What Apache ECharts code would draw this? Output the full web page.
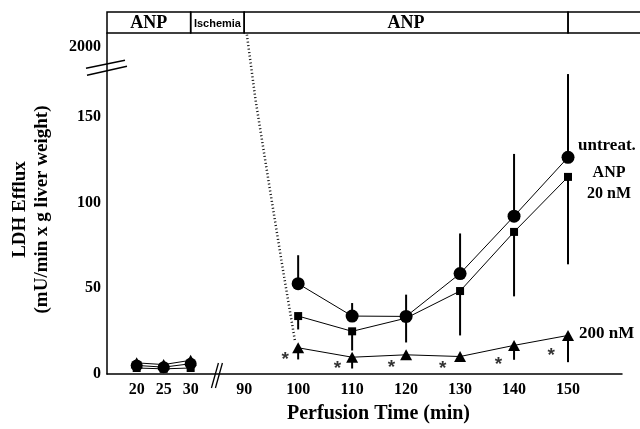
<!DOCTYPE html>
<html>
<head>
<meta charset="utf-8" />
<script src="https://cdn.jsdelivr.net/npm/echarts@6.0.0/dist/echarts.min.js"></script>
</head>
<body style="margin: 0; background: #fff">
<div id="main" style="width: 640px; height: 429px"></div>
<script>
// times (min)
var earlyTimes = [20, 25, 30];
var lateTimes = [100, 110, 120, 130, 140, 150];

// LDH efflux, mU/min x g liver weight
var untreatEarly = [5, 4, 6];
var untreatLate = [52.7, 33.8, 33.6, 58.6, 92.1, 126.4];
var untreatErrUp = [16.6, 7.6, 12.7, 23.4, 36.3, 50.1];

var anp20Early = [3.5, 3, 3.5];
var anp20Late = [33.8, 24.9, 32.6, 48.4, 82.9, 115];
var anp20ErrDown = [7.8, 11.2, 14.2, 25.9, 37.6, 51];

var anp200Early = [6.5, 5.5, 8];
var anp200Late = [15.3, 9.8, 11.2, 10.2, 16.7, 22.5];
var anp200ErrDown = [6.8, 6.6, 0, 0, 8.4, 15.6];

// significance stars
var starTimes = [97.6, 107.3, 117.3, 126.8, 137.1, 146.9];
var starValues = [11.4, 6, 6.7, 6, 8.3, 13.7];

// reperfusion spike (dotted)
var spikeTimes = [90.5, 92.1, 94.8, 97.2, 99.4];
var spikeValues = [2007, 160, 107, 60.5, 19.5];

var xTicks = [20, 25, 30, 90, 100, 110, 120, 130, 140, 150];
var yTicks = [0, 50, 100, 150, 2000];

var phaseNames = ['ANP', 'Ischemia', 'ANP', ''];
var phaseStart = [14.5, 30, 90, 150];
var phaseEnd = [30, 90, 150, 160];

var X_MIN = 14.5, X_MAX = 160;
var xBreak = { start: 32, end: 88, gap: '6.2%' };
var yBreak = { start: 175, end: 1992, gap: '4%' };

var serif = 'Liberation Serif';

function pairs(xs, ys) {
  return xs.map(function (x, i) { return [x, ys[i]]; });
}

function lineSeries(xs, ys, symbol, size, endLabel) {
  var s = {
    type: 'line',
    data: pairs(xs, ys),
    symbol: symbol,
    symbolSize: size,
    showAllSymbol: true,
    itemStyle: { color: '#000' },
    lineStyle: { color: '#000', width: 1 },
    z: 3
  };
  if (endLabel) s.endLabel = endLabel;
  return s;
}

function errSeries(xs, ys, errs, dir) {
  return {
    type: 'custom',
    data: xs.map(function (x, i) { return [x, ys[i], ys[i] + dir * errs[i]]; }),
    encode: { x: 0, y: [1, 2] },
    z: 2,
    renderItem: function (params, api) {
      var a = api.coord([api.value(0), api.value(1)]);
      var b = api.coord([api.value(0), api.value(2)]);
      return {
        type: 'line',
        shape: { x1: a[0], y1: a[1], x2: b[0], y2: b[1] },
        style: { stroke: '#000', lineWidth: 2 }
      };
    }
  };
}

var labelFont = { fontFamily: serif, fontWeight: 'bold', fontSize: 16, color: '#000' };

var chart = echarts.init(document.getElementById('main'));

var option = {
  animation: false,
  backgroundColor: '#fff',
  grid: [
    { left: 107, right: 18, top: 33, bottom: 55 },
    { left: 107, right: 18, top: 12, height: 21 }
  ],
  xAxis: [
    {
      type: 'value', gridIndex: 0, min: X_MIN, max: X_MAX,
      breaks: [xBreak],
      breakArea: { show: false },
      axisLine: { lineStyle: { color: '#000', width: 1.5 }, breakLine: false },
      axisTick: { show: false },
      splitLine: { show: false },
      axisLabel: Object.assign({ customValues: xTicks, margin: 8, formatter: function (v) { return String(v); } }, labelFont),
      name: 'Perfusion Time (min)',
      nameLocation: 'middle',
      nameGap: 30,
      nameTextStyle: { fontFamily: serif, fontWeight: 'bold', fontSize: 20, color: '#000', padding: [0, 0, 0, 28] }
    },
    {
      type: 'value', gridIndex: 1, min: X_MIN, max: X_MAX,
      breaks: [xBreak],
      breakArea: { show: false },
      show: false
    }
  ],
  yAxis: [
    {
      type: 'value', gridIndex: 0, min: 0, max: 2008,
      breaks: [yBreak],
      breakArea: { show: false },
      axisLine: { show: true, lineStyle: { color: '#000', width: 1.5 }, breakLine: false },
      axisTick: { show: false },
      splitLine: { show: false },
      axisLabel: Object.assign({ customValues: yTicks, margin: 6, formatter: function (v) { return String(v); } }, labelFont),
      name: 'LDH Efflux\n(mU/min x g liver weight)',
      nameLocation: 'middle',
      nameRotate: 90,
      nameGap: 54,
      nameTextStyle: { fontFamily: serif, fontWeight: 'bold', fontSize: 19, lineHeight: 22, color: '#000', padding: [0, 12, 0, 0] }
    },
    { type: 'value', gridIndex: 1, min: 0, max: 1, show: false }
  ],
  series: [
    {
      type: 'custom',
      xAxisIndex: 1, yAxisIndex: 1,
      data: phaseStart.map(function (s, i) { return [s, phaseEnd[i]]; }),
      encode: { x: [0, 1] },
      renderItem: function (params, api) {
        var i = params.dataIndex;
        var a = api.coord([api.value(0), 1]);
        var b = api.coord([api.value(1), 0]);
        var x2 = i === phaseNames.length - 1 ? api.getWidth() + 5 : b[0];
        var small = phaseNames[i] === 'Ischemia';
        return {
          type: 'group',
          children: [
            {
              type: 'rect',
              shape: { x: a[0], y: a[1], width: x2 - a[0], height: b[1] - a[1] },
              style: { fill: 'none', stroke: '#000', lineWidth: 1.5 }
            },
            {
              type: 'text',
              style: {
                text: phaseNames[i],
                x: (a[0] + x2) / 2, y: (a[1] + b[1]) / 2 + 1,
                align: 'center', verticalAlign: 'middle',
                font: small ? 'bold 11px Liberation Sans' : 'bold 18px Liberation Serif',
                fill: '#000'
              }
            }
          ]
        };
      }
    },
    {
      type: 'line',
      data: pairs(spikeTimes, spikeValues),
      symbol: 'none',
      lineStyle: { color: '#111', width: 2.5, type: [1, 2.5] },
      z: 1
    },
    errSeries(lateTimes, untreatLate, untreatErrUp, 1),
    errSeries(lateTimes, anp20Late, anp20ErrDown, -1),
    errSeries(lateTimes, anp200Late, anp200ErrDown, -1),
    lineSeries(earlyTimes, anp20Early, 'rect', 8),
    lineSeries(earlyTimes, untreatEarly, 'circle', 12),
    lineSeries(earlyTimes, anp200Early, 'triangle', [12, 11]),
    lineSeries(lateTimes, anp20Late, 'rect', 8, {
      show: true, formatter: 'ANP\n20 nM', align: 'center', offset: [33, 6],
      fontFamily: serif, fontWeight: 'bold', fontSize: 16, lineHeight: 21, color: '#000'
    }),
    lineSeries(lateTimes, untreatLate, 'circle', 13, {
      show: true, formatter: 'untreat.', offset: [2, -12],
      fontFamily: serif, fontWeight: 'bold', fontSize: 17, color: '#000'
    }),
    lineSeries(lateTimes, anp200Late, 'triangle', [12, 11], {
      show: true, formatter: '200 nM', offset: [3, -2],
      fontFamily: serif, fontWeight: 'bold', fontSize: 17, color: '#000'
    }),
    {
      type: 'scatter',
      data: pairs(starTimes, starValues),
      symbolSize: 1,
      itemStyle: { color: 'rgba(0,0,0,0)' },
      label: {
        show: true, formatter: '*', position: 'inside', offset: [0, 5],
        fontFamily: 'Liberation Sans', fontWeight: 'bold', fontSize: 19, color: '#000'
      },
      z: 4
    }
  ]
};

chart.setOption(option);

// break marks "//" on both axes
var bx = (chart.convertToPixel({ xAxisIndex: 0 }, xBreak.start) + chart.convertToPixel({ xAxisIndex: 0 }, xBreak.end)) / 2;
var by = (chart.convertToPixel({ yAxisIndex: 0 }, yBreak.start) + chart.convertToPixel({ yAxisIndex: 0 }, yBreak.end)) / 2;
var ax = chart.convertToPixel({ xAxisIndex: 0 }, X_MIN);
var ay = chart.convertToPixel({ yAxisIndex: 0 }, 0);
var st = { stroke: '#000', lineWidth: 1.3 };
chart.setOption({
  graphic: [
    { type: 'line', shape: { x1: bx - 6, y1: ay + 14, x2: bx + 1, y2: ay - 11 }, style: st },
    { type: 'line', shape: { x1: bx - 2, y1: ay + 14, x2: bx + 5, y2: ay - 11 }, style: st },
    { type: 'line', shape: { x1: ax - 21, y1: by + 1, x2: ax + 18, y2: by - 7 }, style: st },
    { type: 'line', shape: { x1: ax - 20, y1: by + 8, x2: ax + 20, y2: by - 1 }, style: st }
  ]
});
</script>
</body>
</html>
